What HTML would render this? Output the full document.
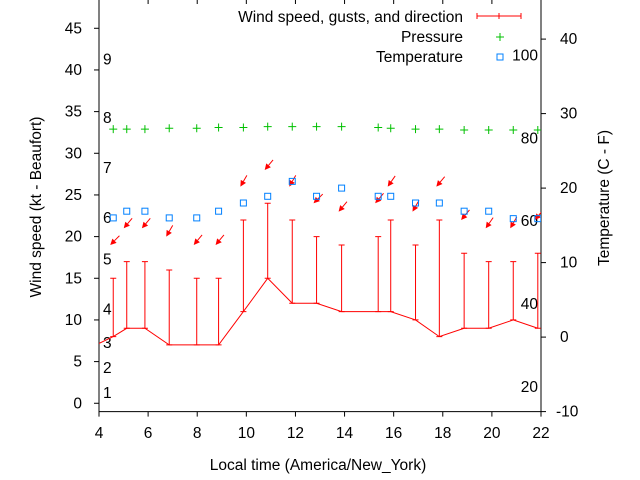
<!DOCTYPE html>
<html><head><meta charset="utf-8"><style>
html,body{margin:0;padding:0;background:#fff;width:640px;height:480px;overflow:hidden}
svg text{font-family:"Liberation Sans","DejaVu Sans",sans-serif;font-size:15.5px;fill:#000}
</style></head><body>
<svg id="chart" width="640" height="480" xmlns="http://www.w3.org/2000/svg">
<g id="axes"></g>
<g id="marks"></g>
<g id="legend"></g>
</svg>
<script>
const hours = [3.87,4.58,5.13,5.87,6.86,7.98,8.87,9.88,10.87,11.87,12.86,13.88,15.37,15.88,16.89,17.86,18.87,19.87,20.87,21.87];
const windSpeed = [7,8,9,9,7,7,7,11,15,12,12,11,11,11,10,8,9,9,10,9];
const windGust = [null,15,17,17,16,15,15,22,24,22,20,19,20,22,19,22,18,17,17,18];
const windDir = [45,45,40,40,30,40,40,30,40,30,45,40,40,35,30,40,40,35,30,40];
const temperature = [null,16,16.9,16.9,16,16,16.9,18,18.9,20.9,18.9,20,18.9,18.9,18,18,16.9,16.9,15.9,15.9];
const pressure = [null,32.9,32.9,32.9,33.0,33.0,33.1,33.1,33.2,33.2,33.2,33.2,33.1,33.0,32.9,32.9,32.8,32.8,32.8,32.8];
const xTicks = [4,6,8,10,12,14,16,18,20,22];
const yTicks = [0,5,10,15,20,25,30,35,40,45];
const tTicks = [-10,0,10,20,30,40];
const beaufort = [1,4,7,11,17,22,28,34,41];
const fahrenheit = [20,40,60,80,100];

const L=99,R=541,B=411.6;
const X=h=>L+(h-4)*(R-L)/18;
const Y=v=>B-(v+1)*8.333;
const T=c=>B-(c+10)*7.45;
const NS='http://www.w3.org/2000/svg';
function mk(parent,tag,attrs,text){const e=document.createElementNS(NS,tag);for(const k in attrs)e.setAttribute(k,attrs[k]);if(text!==undefined)e.textContent=text;parent.appendChild(e);return e;}
const axes=document.getElementById('axes'),marks=document.getElementById('marks'),legend=document.getElementById('legend');
const clip=mk(document.getElementById('chart'),'clipPath',{id:'pc'});mk(clip,'rect',{x:L,y:0,width:R-L,height:B});
marks.setAttribute('clip-path','url(#pc)');

let e;
e=mk(axes,'path',{d:`M${L},0V${B}H${R}V0`,fill:'none',stroke:'#000','stroke-width':1});


xTicks.forEach(h=>{
  mk(axes,'line',{x1:X(h),x2:X(h),y1:B,y2:B+5,stroke:'#000'});
  mk(axes,'line',{x1:X(h),x2:X(h),y1:0,y2:4,stroke:'#000'});
  e=mk(axes,'text',{x:X(h),y:438,'text-anchor':'middle'},h);
  
  
});
yTicks.forEach(v=>{
  mk(axes,'line',{x1:L-5,x2:L,y1:Y(v),y2:Y(v),stroke:'#000'});
  e=mk(axes,'text',{x:82,y:Y(v)+5,'text-anchor':'end'},v);
  
  
});
tTicks.forEach(v=>{
  mk(axes,'line',{x1:R,x2:R+5,y1:T(v),y2:T(v),stroke:'#000'});
  e=mk(axes,'text',{x:v<0?556:560,y:T(v)+5},v);
  
  
});
beaufort.forEach((v,i)=>{
  e=mk(axes,'text',{x:103,y:Y(v)+3},i+1);
  
  
});
fahrenheit.forEach(f=>{
  e=mk(axes,'text',{x:538,y:T((f-32)*5/9)+5,'text-anchor':'end'},f);
  
  
});
e=mk(axes,'text',{x:318,y:470,'text-anchor':'middle'},'Local time (America/New_York)');


e=mk(axes,'text',{x:0,y:0,'text-anchor':'middle',transform:'translate(41,207) rotate(-90)'},'Wind speed (kt - Beaufort)');


e=mk(axes,'text',{x:0,y:0,'text-anchor':'middle',transform:'translate(609,198) rotate(-90)'},'Temperature (C - F)');



e=mk(marks,'polyline',{points:hours.map((h,i)=>X(h)+','+Y(windSpeed[i])).join(' '),fill:'none',stroke:'#f00','stroke-width':1});


hours.forEach((h,i)=>{
  const x=X(h);
  if(windGust[i]!==null){
    e=mk(marks,'path',{d:`M${x},${Y(windSpeed[i])}V${Y(windGust[i])}M${x-3},${Y(windGust[i])}h6M${x-3},${Y(windSpeed[i])}h6`,stroke:'#f00',fill:'none'});
    
    
    const a=windDir[i]*Math.PI/180, len=13;
    const tx=x-3, ty=Y(windGust[i]+4);
    const sx=tx+len*Math.sin(a), sy=ty-len*Math.cos(a);
    const ux=(tx-sx)/len, uy=(ty-sy)/len;
    const bx=tx-ux*6, by=ty-uy*6;
    e=mk(marks,'g',{});
    
    
    mk(e,'line',{x1:sx,y1:sy,x2:bx,y2:by,stroke:'#f00'});
    mk(e,'polygon',{points:`${tx},${ty} ${bx-uy*3},${by+ux*3} ${bx+uy*3},${by-ux*3}`,fill:'#f00'});
  }
  if(pressure[i]!==null){
    const y=Y(pressure[i]);
    e=mk(marks,'path',{d:`M${x-4},${y}h8M${x},${y-4}v8`,stroke:'#00c000'});
    
    
  }
  if(temperature[i]!==null){
    const y=T(temperature[i]);
    e=mk(marks,'rect',{x:x-3,y:y-3,width:6,height:6,fill:'none',stroke:'#0080ff'});
    
    
  }
});

e=mk(legend,'text',{x:463,y:22,'text-anchor':'end'},'Wind speed, gusts, and direction');


e=mk(legend,'path',{d:'M477,16H521M477,13v6M521,13v6M499,13v6',stroke:'#f00',fill:'none'});


e=mk(legend,'text',{x:463,y:42,'text-anchor':'end'},'Pressure');


e=mk(legend,'path',{d:'M496,37h8M500,33v8',stroke:'#00c000'});


e=mk(legend,'text',{x:463,y:62,'text-anchor':'end'},'Temperature');


e=mk(legend,'rect',{x:497,y:54,width:6,height:6,fill:'none',stroke:'#0080ff'});


</script>
</body></html>
